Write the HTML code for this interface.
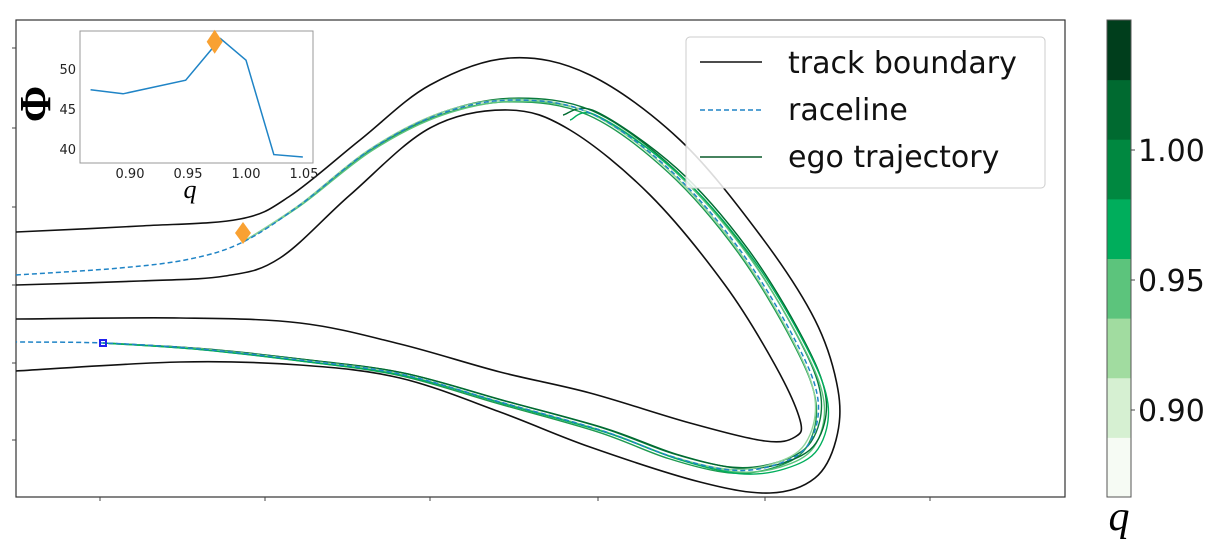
<!DOCTYPE html>
<html><head><meta charset="utf-8"><style>
body{margin:0;background:#fff;width:1219px;height:546px;overflow:hidden;font-family:"DejaVu Sans","Liberation Sans",sans-serif}
svg{position:absolute;left:0;top:0}
</style></head><body>
<svg id="s" width="1219" height="546">
 <rect x="16" y="20" width="1049" height="477" fill="#fff" stroke="#333" stroke-width="1.2"/>
 <g id="ticks"></g>
 <g id="track"></g>
 <g id="inset"></g>
 <g id="legend">
  <rect x="686" y="37" width="359" height="151" rx="4" fill="#fff" fill-opacity="0.85" stroke="#ccc"/>
  <line x1="700" y1="62" x2="762" y2="62" stroke="#111" stroke-width="1.6"/>
  <text x="788" y="73" font-size="30" fill="#111">track boundary</text>
  <line x1="700" y1="110" x2="762" y2="110" stroke="#1f84c6" stroke-width="1.6" stroke-dasharray="5,3"/>
  <text x="788" y="120" font-size="30" fill="#111">raceline</text>
  <line x1="700" y1="157" x2="762" y2="157" stroke="#0a5a2a" stroke-width="1.6"/>
  <text x="788" y="167" font-size="30" fill="#111">ego trajectory</text>
 </g>
 <g id="cbar"></g>
</svg>
<script>
const NS="http://www.w3.org/2000/svg";
function mk(tag,attrs,parent){const e=document.createElementNS(NS,tag);for(const k in attrs)e.setAttribute(k,attrs[k]);parent.appendChild(e);return e;}
// inset data
const insetQ=[0.866,0.894,0.948,0.978,1.000,1.024,1.049];
const insetPhi=[47.4,46.9,48.6,53.8,51.1,39.3,39.0];
const bestQ=[0.973];const bestPhi=[53.4];
const insetXTicks=[0.90,0.95,1.00,1.05];
const insetYTicks=[40,45,50];
const cbarTicks=[0.90,0.95,1.00];
const cbarColors=["#f6fbf4","#d6f0d2","#a1dca0","#5cc47c","#00ae5c","#008840","#006a30","#003e1c"];
// track geometry
const outerB=[[16,232],[140,226],[240,219],[290,196],[360,140],[430,85],[510,58],[590,75],[680,140],[760,235],[815,320],[838,390],[836,440],[815,478],[770,493],[700,482],[590,447],[500,412],[400,378],[300,365],[180,362],[16,371]];
const innerB=[[16,285],[140,281],[225,276],[280,258],[350,195],[430,128],[508,110],[570,130],[650,195],[725,285],[775,365],[800,420],[795,437],[765,441],[690,423],[590,393],[500,372],[400,344],[300,323],[180,318],[16,319]];
const raceline=[[16,275],[120,268],[190,259],[243,242],[300,205],[370,150],[440,114],[512,100],[590,113],[670,170],[740,250],[795,340],[818,400],[808,445],[775,465],[730,470],[670,456],[600,430],[500,402],[400,374],[300,360],[200,349],[103,343],[16,342]];
// ego offsets: [id, dx, dy, colour]
const egoOffsets=[[0,3,-3,"#0a7a3c"],[1,-2,3,"#1e9a50"],[2,6,2,"#5cc47c"],[3,8,-2,"#006a30"],[4,-3,-1,"#8fd49a"],[5,10,4,"#00ae5c"]];
const ctx=document.getElementById('track');
function smooth(p){let d="M"+p[0][0]+","+p[0][1];for(let i=0;i<p.length-1;i++){const a=p[Math.max(i-1,0)],b=p[i],c=p[i+1],e=p[Math.min(i+2,p.length-1)];d+=" C"+(b[0]+(c[0]-a[0])/6)+","+(b[1]+(c[1]-a[1])/6)+" "+(c[0]-(e[0]-b[0])/6)+","+(c[1]-(e[1]-b[1])/6)+" "+c[0]+","+c[1];}return d;}
let el=mk('path',{d:smooth(outerB),fill:"none",stroke:"#111","stroke-width":1.6},ctx);


el=mk('path',{d:smooth(innerB),fill:"none",stroke:"#111","stroke-width":1.6},ctx);


const egoBase=raceline.slice(3,23);
egoOffsets.forEach((o,k)=>{
 const n=egoBase.length;
 const pts=egoBase.map((p,i)=>{const w=Math.sin(Math.PI*i/(n-1));return [p[0]+o[1]*w,p[1]+o[2]*w];});
 if(k===3){pts.splice(0,5);pts.unshift([563,115]);}
 if(k===5){pts.splice(0,5);pts.unshift([570,120]);}
 const e=mk('path',{d:smooth(pts),fill:"none",stroke:o[3],"stroke-width":1.4},ctx);
 
 
});
el=mk('path',{d:smooth(raceline),fill:"none",stroke:"#1f84c6","stroke-width":1.5,"stroke-dasharray":"5,3"},ctx);


el=mk('path',{d:"M243,222 L251,233 L243,244 L235,233 Z",fill:"#f9a132"},ctx);


el=mk('rect',{x:100,y:340,width:6,height:6,fill:"none",stroke:"#2222ee","stroke-width":2},ctx);


const tk=document.getElementById('ticks');
[48,128,207,285,363,440].forEach(y=>{const t=mk('line',{x1:12,y1:y,x2:16,y2:y,stroke:"#444"},tk);

});
[100,265,430,598,765,930].forEach(x=>{const t=mk('line',{x1:x,y1:497,x2:x,y2:501,stroke:"#444"},tk);

});
// inset
const ig=document.getElementById('inset');
const ix=q=>130+(q-0.90)/0.05*58, iy=v=>69-(v-50)*8;
el=mk('rect',{x:80,y:31,width:233,height:132,fill:"#fff",stroke:"#999"},ig);


insetXTicks.forEach(q=>{const t=mk('text',{x:ix(q),y:178,"font-size":13,"text-anchor":"middle",fill:"#222"},ig);t.textContent=q.toFixed(2);

});
insetYTicks.forEach(v=>{const t=mk('text',{x:76,y:iy(v)+5,"font-size":13,"text-anchor":"end",fill:"#222"},ig);t.textContent=v;

});
el=mk('polyline',{points:insetQ.map((q,i)=>ix(q)+","+iy(insetPhi[i])).join(" "),fill:"none",stroke:"#1f84c6","stroke-width":1.5},ig);


bestQ.forEach((q,i)=>{const cx=ix(q),cy=iy(bestPhi[i]);const d=mk('path',{d:`M${cx},${cy-12} L${cx+8},${cy} L${cx},${cy+12} L${cx-8},${cy} Z`,fill:"#f9a132"},ig);

});
el=mk('text',{x:190,y:198,"font-size":26,"font-style":"italic","font-family":"Liberation Serif,serif","text-anchor":"middle"},ig);el.textContent="q";


el=mk('text',{x:50,y:104,"font-size":44,"font-weight":"bold","font-family":"Liberation Serif,serif","text-anchor":"middle",transform:"rotate(-90 50 104)"},ig);el.textContent="Φ";


// colorbar
const cb=document.getElementById('cbar');
const cbTop=20,cbBot=497,segH=(cbBot-cbTop)/cbarColors.length;
cbarColors.forEach((c,i)=>{const r=mk('rect',{x:1107,y:cbBot-(i+1)*segH,width:24,height:segH+0.5,fill:c},cb);

});
el=mk('rect',{x:1107,y:cbTop,width:24,height:cbBot-cbTop,fill:"none",stroke:"#555"},cb);


const cyv=v=>280-(v-0.95)/0.05*130;
cbarTicks.forEach(v=>{const l=mk('line',{x1:1131,y1:cyv(v),x2:1135,y2:cyv(v),stroke:"#444"},cb);


const t=mk('text',{x:1138,y:cyv(v)+11,"font-size":30,fill:"#111"},cb);t.textContent=v.toFixed(2);

});
el=mk('text',{x:1119,y:530,"font-size":42,"font-style":"italic","font-family":"Liberation Serif,serif","text-anchor":"middle"},cb);el.textContent="q";


</script>
</body></html>
